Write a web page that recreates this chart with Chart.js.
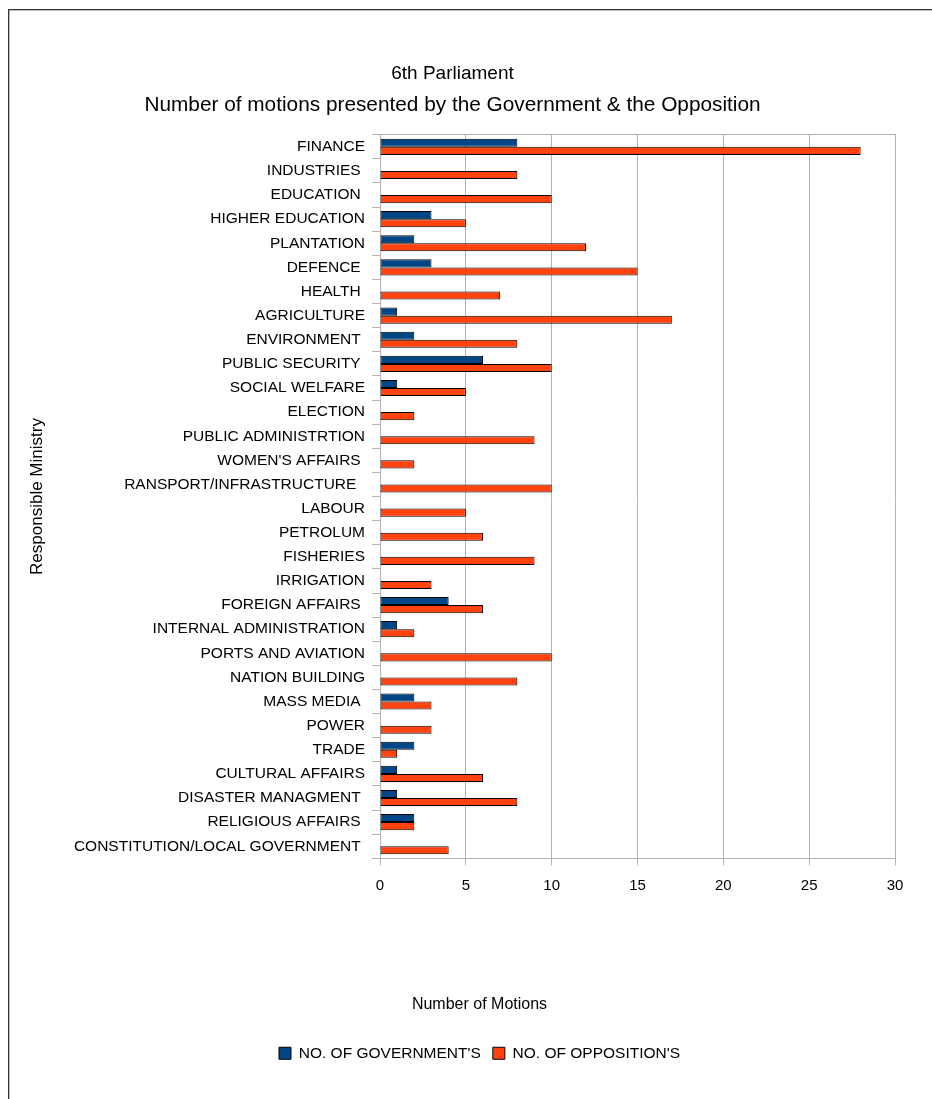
<!DOCTYPE html>
<html>
<head>
  <title>6th Parliament - Motions</title>
  <meta charset="UTF-8">
  <script src="https://cdn.jsdelivr.net/npm/chart.js"></script>
  <style>
    body {
      margin: 0;
      background: #fff;
      overflow: hidden;
    }
    .frame {
      position: absolute;
      left: 8px;
      top: 9px;
      width: 1000px;
      height: 1200px;
      border: 1px solid #333;
      box-shadow: 1px 1px 0 #bbb inset;
    }
    #chart {
      position: absolute;
      left: 0;
      top: 0;
    }
  </style>
</head>
<body>
  <div class="frame"></div>
  <canvas id="chart" width="932" height="1099"></canvas>

  <script>
    // ministries, top to bottom as in the original sheet
    const ministries = [
      'FINANCE', 'INDUSTRIES ', 'EDUCATION ', 'HIGHER EDUCATION', 'PLANTATION',
      'DEFENCE ', 'HEALTH ', 'AGRICULTURE', 'ENVIRONMENT ', 'PUBLIC SECURITY ',
      'SOCIAL WELFARE', 'ELECTION', 'PUBLIC ADMINISTRTION', "WOMEN'S AFFAIRS ",
      'RANSPORT/INFRASTRUCTURE  ', 'LABOUR', 'PETROLUM', 'FISHERIES', 'IRRIGATION',
      'FOREIGN AFFAIRS ', 'INTERNAL ADMINISTRATION', 'PORTS AND AVIATION',
      'NATION BUILDING', 'MASS MEDIA ', 'POWER', 'TRADE', 'CULTURAL AFFAIRS',
      'DISASTER MANAGMENT ', 'RELIGIOUS AFFAIRS ', 'CONSTITUTION/LOCAL GOVERNMENT '
    ];
    const governmentMotions = [8, 0, 0, 3, 2, 3, 0, 1, 2, 6, 1, 0, 0, 0, 0, 0, 0, 0, 0, 4, 1, 0, 0, 2, 0, 2, 1, 1, 2, 0];
    const oppositionMotions = [28, 8, 10, 5, 12, 15, 7, 17, 8, 10, 5, 2, 9, 2, 10, 5, 6, 9, 3, 6, 2, 10, 8, 3, 3, 1, 6, 8, 2, 4];
    const xTicks = [0, 5, 10, 15, 20, 25, 30];

    const FONT = "'Liberation Sans', Arial, sans-serif";
    const GRID = '#b3b3b3';

    // nudge the legend block a bit to the right like in the original
    const legendShift = {
      id: 'legendShift',
      afterLayout(chart) {
        chart.legend.left += 27;
        chart.legend.right += 27;
      }
    };

    new Chart(document.getElementById('chart'), {
      type: 'bar',
      data: {
        labels: ministries,
        datasets: [
          {
            label: "NO. OF GOVERNMENT'S",
            data: governmentMotions,
            backgroundColor: '#004586',
            borderColor: '#000',
            borderWidth: 1,
            borderSkipped: false,
            categoryPercentage: 0.67,
            barPercentage: 1.0
          },
          {
            label: "NO. OF OPPOSITION'S",
            data: oppositionMotions,
            backgroundColor: '#ff420e',
            borderColor: '#000',
            borderWidth: 1,
            borderSkipped: false,
            categoryPercentage: 0.67,
            barPercentage: 1.0
          }
        ]
      },
      options: {
        indexAxis: 'y',
        responsive: false,
        animation: false,
        devicePixelRatio: 1,
        layout: {
          padding: { top: 10, left: 10, right: 37, bottom: 28 }
        },
        scales: {
          x: {
            type: 'linear',
            position: 'bottom',
            min: 0,
            max: 30,
            afterBuildTicks: (scale) => {
              scale.ticks = xTicks.map(v => ({ value: v }));
            },
            ticks: {
              font: { family: FONT, size: 15 },
              color: '#000',
              padding: 12
            },
            grid: { color: GRID, tickLength: 7 },
            border: { color: GRID },
            afterFit: (scale) => { scale.height = 36; }
          },
          // only used to close the plot area at the top
          xTop: {
            axis: 'x',
            type: 'linear',
            position: 'top',
            min: 0,
            max: 30,
            ticks: { display: false },
            grid: { display: false, drawTicks: false },
            border: { display: true, color: GRID },
            afterFit: (scale) => { scale.height = 0; }
          },
          y: {
            grid: {
              offset: true,
              drawOnChartArea: false,
              tickLength: 8,
              color: GRID
            },
            border: { color: GRID },
            ticks: {
              autoSkip: false,
              font: { family: FONT, size: 15.5 },
              color: '#000',
              padding: 7
            },
            title: {
              display: true,
              text: 'Responsible Ministry',
              font: { family: FONT, size: 17 },
              color: '#000',
              padding: { top: 17, bottom: 0 }
            },
            afterFit: (scale) => { scale.width = 370; }
          }
        },
        plugins: {
          title: {
            display: true,
            text: '6th Parliament',
            font: { family: FONT, size: 19, weight: 'normal' },
            color: '#000',
            padding: { top: 52, bottom: 0 }
          },
          subtitle: {
            display: true,
            text: 'Number of motions presented by the Government & the Opposition',
            font: { family: FONT, size: 20.8 },
            color: '#000',
            padding: { top: 8, bottom: 17 }
          },
          legend: {
            position: 'bottom',
            title: {
              display: true,
              text: 'Number of Motions',
              font: { family: FONT, size: 16 },
              color: '#000',
              padding: { top: 102, bottom: 18 }
            },
            labels: {
              boxWidth: 12,
              boxHeight: 12,
              padding: 12,
              font: { family: FONT, size: 15.5 },
              color: '#000'
            }
          },
          tooltip: { enabled: false }
        }
      },
      plugins: [legendShift]
    });
  </script>
</body>
</html>
